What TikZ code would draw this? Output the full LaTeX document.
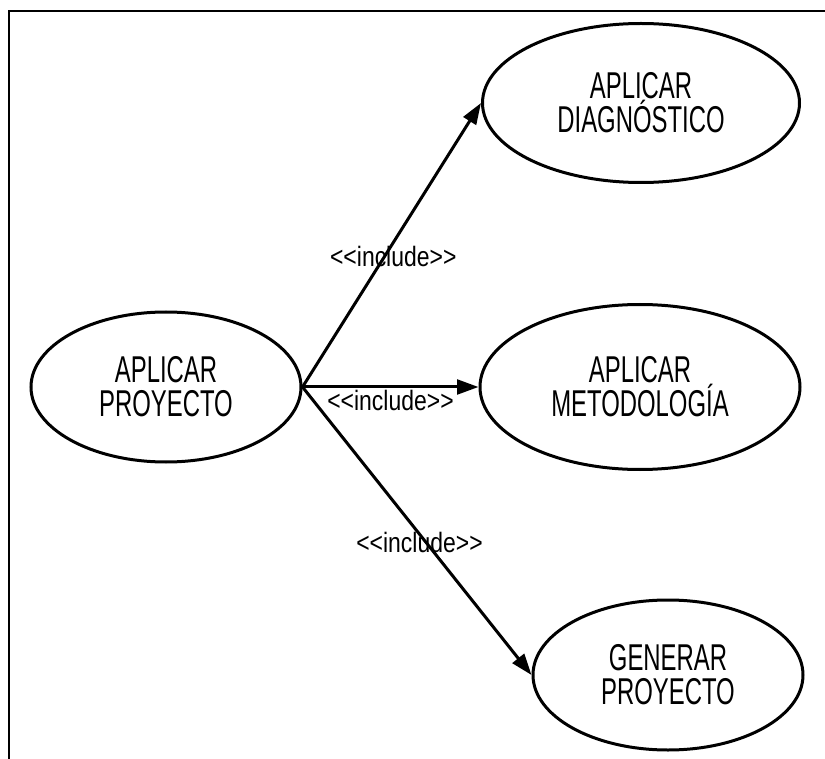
\documentclass[tikz,border=0pt]{standalone}
\usepackage{fontspec}
\usetikzlibrary{shapes.geometric,arrows.meta}
\newfontfamily\casofont[FakeStretch=0.64]{Liberation Sans}
\newfontfamily\etiqfont[FakeStretch=0.82]{Liberation Sans}
\tikzset{
  caso/.style={ellipse, draw, line width=2.25pt, inner sep=0pt, align=center,
    font=\casofont\fontsize{28}{25.5}\selectfont},
  incluye/.style={line width=2.25pt, -{Triangle[length=16pt,width=11pt]}},
  etiq/.style={font=\etiqfont\fontsize{21}{24}\selectfont, inner sep=1pt}
}
\begin{document}
\begin{tikzpicture}[x=0.75pt,y=0.75pt,yscale=-1,xscale=1]
\useasboundingbox (0,0) rectangle (825,759);

%Straight Lines [id:marco] 
\draw [line width=1.5pt]  (9,759) -- (9,11) -- (825,11) ;

% Use Case Nodes
\node [caso, minimum width=202.5pt, minimum height=112.5pt] (proyecto) at (166,387) {APLICAR\\PROYECTO};
\node [caso, minimum width=237.75pt, minimum height=119.25pt] (diagnostico) at (641,103) {APLICAR\\DIAGNÓSTICO};
\node [caso, minimum width=240pt, minimum height=123.75pt] (metodologia) at (640,387) {APLICAR\\METODOLOGÍA};
\node [caso, minimum width=202.5pt, minimum height=112.5pt] (generar) at (668,675) {GENERAR\\PROYECTO};

% Connection
\draw [incluye] (proyecto.east) -- node [etiq, pos=0.46, xshift=6.5pt] {<<include>>} (diagnostico.west) ;
% Connection
\draw [incluye] (proyecto.east) -- node [etiq, pos=0.5, below=0pt] {<<include>>} (metodologia.west) ;
% Connection
\draw [incluye] (proyecto.east) -- node [etiq, pos=0.54, xshift=-5pt] {<<include>>} (generar.west) ;

\end{tikzpicture}
\end{document}
